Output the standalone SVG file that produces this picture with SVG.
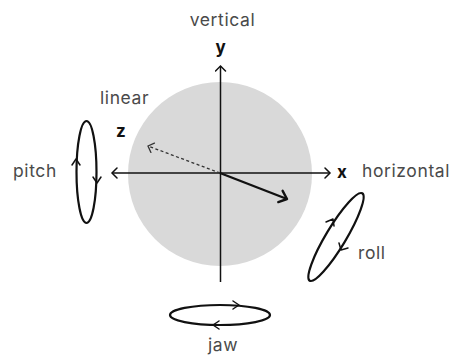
<svg xmlns="http://www.w3.org/2000/svg" width="450" height="356" viewBox="0 0 450 356">
<style>
.lbl{font-family:Inter,"Noto Sans",sans-serif;font-size:17.5px;letter-spacing:0.6px;fill:#4a4a4a}
.ax{font-family:Inter,"Noto Sans",sans-serif;font-size:17px;font-weight:bold;fill:#111}
.ln{stroke:#111;stroke-width:1.5;fill:none}
.ring{stroke:#111;stroke-width:2.2;fill:none}
.chev{stroke:#111;stroke-width:1.5;fill:none;stroke-linecap:round;stroke-linejoin:round}
</style>
<defs>
<marker id="open" markerWidth="12" markerHeight="12" refX="9" refY="6" orient="auto" markerUnits="userSpaceOnUse">
<path d="M4,1 L9,6 L4,11" fill="none" stroke="#111" stroke-width="1.5" stroke-linecap="round"/>
</marker>
<marker id="openDash" markerWidth="12" markerHeight="12" refX="9" refY="6" orient="auto" markerUnits="userSpaceOnUse">
<path d="M4,1 L9,6 L4,11" fill="none" stroke="#333" stroke-width="1.3" stroke-linecap="round"/>
</marker>
<marker id="big" markerWidth="16" markerHeight="16" refX="12" refY="8" orient="auto" markerUnits="userSpaceOnUse">
<path d="M5,2 L12,8 L5,14" fill="none" stroke="#111" stroke-width="2.4" stroke-linecap="round" stroke-linejoin="round"/>
</marker>
</defs>
<g id="sphere"><circle cx="220" cy="174" r="92" fill="#d9d9d9"/></g>
<g id="connectors">
<line class="ln" x1="220.5" y1="282" x2="220.5" y2="66" marker-end="url(#open)"/>
<line class="ln" x1="220" y1="173" x2="112" y2="173" marker-end="url(#open)"/>
<line class="ln" x1="220" y1="173" x2="330" y2="173" marker-end="url(#open)"/>
<line x1="220" y1="173" x2="148" y2="146" stroke="#333" stroke-width="1.3" stroke-dasharray="3,2.5" marker-end="url(#openDash)"/>
<line x1="220" y1="173" x2="287" y2="199" stroke="#111" stroke-width="2.4" marker-end="url(#big)"/>
</g>
<g id="pitch">
<ellipse class="ring" cx="86.5" cy="172" rx="10" ry="51"/>
<path class="chev" d="M72,165 L76,159 L80,165"/>
<path class="chev" d="M93,177 L97,183 L101,177"/>
<text class="lbl" x="13" y="177">pitch</text>
</g>
<g id="roll">
<ellipse class="ring" cx="336" cy="237" rx="10" ry="51" transform="rotate(31 336 237)"/>
<path class="chev" d="M326,222 L333,219 L334,226" />
<path class="chev" d="M339,243 L341,250 L348,248" />
<text class="lbl" x="358" y="259">roll</text>
</g>
<g id="jaw">
<ellipse class="ring" cx="220" cy="315" rx="50" ry="10"/>
<path class="chev" d="M233,301 L239,305 L233,309"/>
<path class="chev" d="M219,321 L213,325 L219,329"/>
<text class="lbl" x="223" y="351" text-anchor="middle">jaw</text>
</g>
<g id="labels">
<text class="lbl" x="222.5" y="26" text-anchor="middle">vertical</text>
<text class="ax" x="220.5" y="53" text-anchor="middle">y</text>
<text class="lbl" x="100" y="104">linear</text>
<text class="ax" x="116" y="137">z</text>
<text class="ax" x="337" y="178">x</text>
<text class="lbl" x="362" y="177">horizontal</text>
</g>
</svg>
